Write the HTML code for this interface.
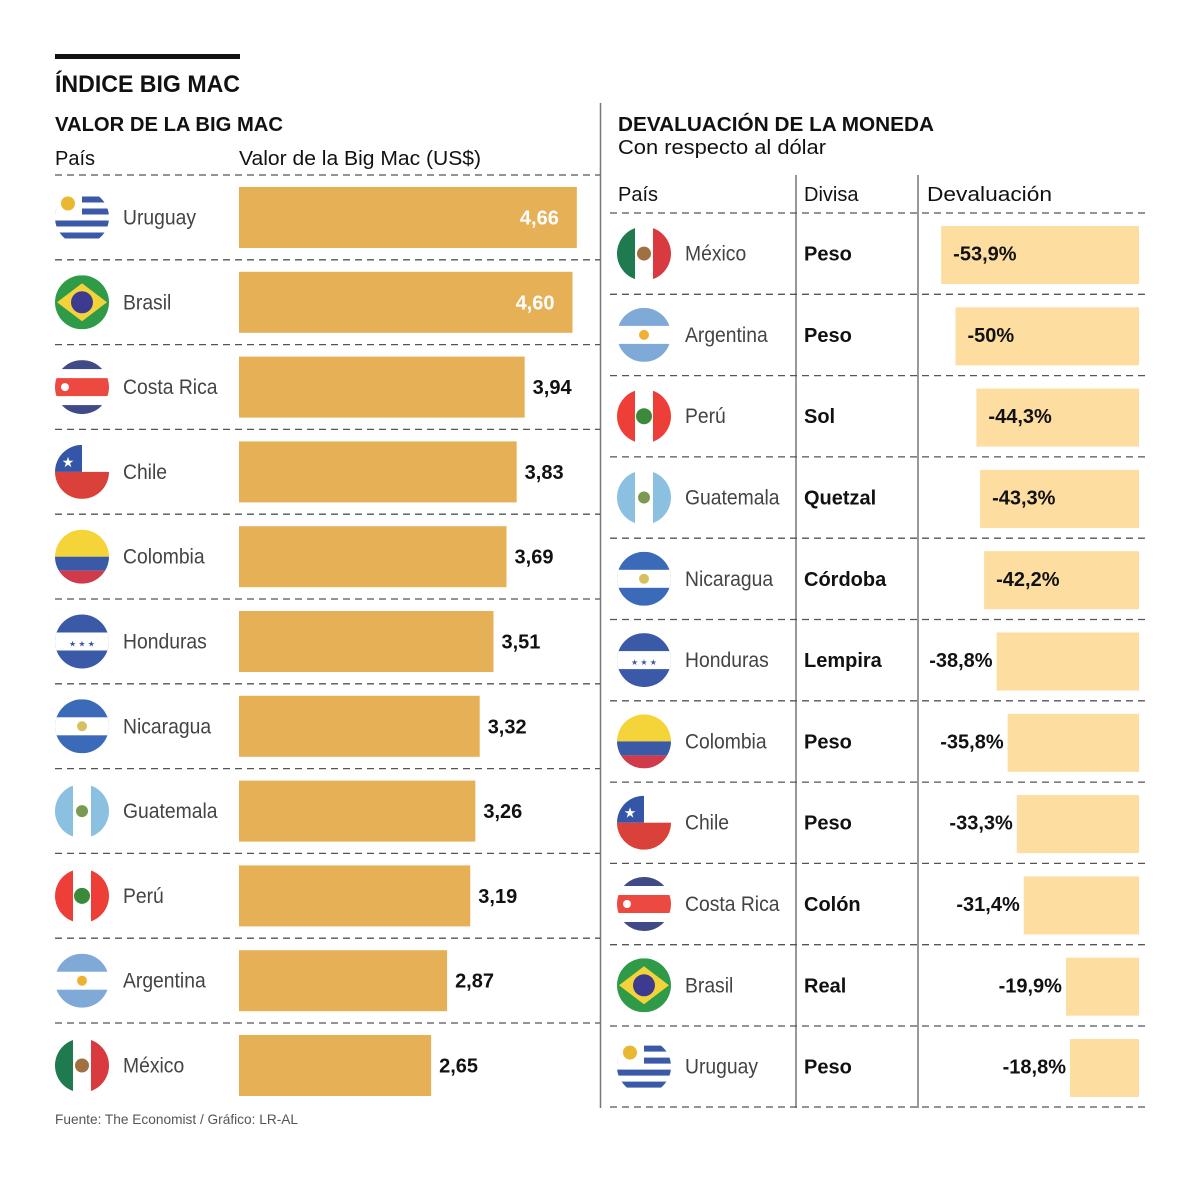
<!DOCTYPE html>
<html><head><meta charset="utf-8"><style>
body{margin:0;background:#fff;}
svg text{font-family:"Liberation Sans",sans-serif;}
</style></head><body>
<svg id="c" width="1200" height="1181" viewBox="0 0 1200 1181" xmlns="http://www.w3.org/2000/svg">
<rect x="55" y="54" width="185" height="5" fill="#111"/>
<text x="55" y="92" font-size="24" font-weight="bold" fill="#111" textLength="185" lengthAdjust="spacingAndGlyphs">ÍNDICE BIG MAC</text>
<text x="55" y="131" font-size="20" font-weight="bold" fill="#111" textLength="228" lengthAdjust="spacingAndGlyphs">VALOR DE LA BIG MAC</text>
<text x="55" y="165" font-size="20" fill="#111">País</text>
<text x="239" y="165" font-size="20" fill="#111" textLength="242" lengthAdjust="spacingAndGlyphs">Valor de la Big Mac (US$)</text>
<text x="618" y="131" font-size="20" font-weight="bold" fill="#111" textLength="316" lengthAdjust="spacingAndGlyphs">DEVALUACIÓN DE LA MONEDA</text>
<text x="618" y="154" font-size="20" fill="#111" textLength="208" lengthAdjust="spacingAndGlyphs">Con respecto al dólar</text>
<text x="618" y="201" font-size="20" fill="#111">País</text>
<text x="804" y="201" font-size="20" fill="#111">Divisa</text>
<text x="927" y="201" font-size="20" fill="#111" textLength="125" lengthAdjust="spacingAndGlyphs">Devaluación</text>
<line x1="600.5" y1="103" x2="600.5" y2="1108" stroke="#777" stroke-width="1.5"/>
<line x1="796" y1="175" x2="796" y2="1108" stroke="#555" stroke-width="1.2"/>
<line x1="918" y1="175" x2="918" y2="1108" stroke="#555" stroke-width="1.2"/>
<text x="55" y="1124" font-size="14" fill="#555" textLength="243" lengthAdjust="spacingAndGlyphs">Fuente: The Economist / Gráfico: LR-AL</text>
<g id="L"></g><g id="R"></g>
</svg>
<script>
const leftCountries=["Uruguay","Brasil","Costa Rica","Chile","Colombia","Honduras","Nicaragua","Guatemala","Perú","Argentina","México"];
const leftValues=[4.66,4.60,3.94,3.83,3.69,3.51,3.32,3.26,3.19,2.87,2.65];
const leftLabels=["4,66","4,60","3,94","3,83","3,69","3,51","3,32","3,26","3,19","2,87","2,65"];
const rightCountries=["México","Argentina","Perú","Guatemala","Nicaragua","Honduras","Colombia","Chile","Costa Rica","Brasil","Uruguay"];
const rightCurrencies=["Peso","Peso","Sol","Quetzal","Córdoba","Lempira","Peso","Peso","Colón","Real","Peso"];
const rightValues=[-53.9,-50,-44.3,-43.3,-42.2,-38.8,-35.8,-33.3,-31.4,-19.9,-18.8];
const rightLabels=["-53,9%","-50%","-44,3%","-43,3%","-42,2%","-38,8%","-35,8%","-33,3%","-31,4%","-19,9%","-18,8%"];

const NS="http://www.w3.org/2000/svg";
function mk(tag,attrs,parent){const e=document.createElementNS(NS,tag);for(const k in attrs)e.setAttribute(k,attrs[k]);parent.appendChild(e);return e;}
const xL=v=>v*72.5;
const xR=v=>Math.abs(v)*3.67;
const L=document.getElementById('L'),R=document.getElementById('R');
let fid=0;
function nameText(parent,x,y,s){
  const t=mk('text',{x:x,y:y,'font-size':21,fill:'#444'},parent);t.textContent=s;
  const w=t.getComputedTextLength();
  t.setAttribute('textLength',(w*0.92).toFixed(1));t.setAttribute('lengthAdjust','spacingAndGlyphs');
  return t;
}
function flag(name,cx,cy,parent){
  const id='cl'+(fid++);const r=27;
  const g=mk('g',{transform:`translate(${cx},${cy})`},parent);
  
  
  const cp=mk('clipPath',{id:id},g);mk('circle',{cx:0,cy:0,r:r},cp);
  const h=mk('g',{'clip-path':`url(#${id})`},g);
  const R_=(x,y,w,hh,f)=>mk('rect',{x:x,y:y,width:w,height:hh,fill:f},h);
  const blue='#3a5aa8',red='#d9413a',lb='#7fa9d6';
  switch(name){
    case "Uruguay":R_(-27,-27,54,54,'#fff');for(let i=0;i<4;i++)R_(-27,-21+i*12,54,6,blue);R_(-27,-27,27,27,'#fff');mk('circle',{cx:-14,cy:-14,r:7,fill:'#e8b830'},h);break;
    case "Brasil":R_(-27,-27,54,54,'#2f9a48');mk('polygon',{points:'-25,0 0,-19 25,0 0,19',fill:'#f3d23a'},h);mk('circle',{cx:0,cy:0,r:11,fill:'#3d3b8f'},h);break;
    case "Costa Rica":R_(-27,-27,54,54,'#fff');R_(-27,-27,54,9,'#3f4a86');R_(-27,18,54,9,'#3f4a86');R_(-27,-9,54,18,'#ec4a40');mk('circle',{cx:-17,cy:0,r:4,fill:'#fff'},h);break;
    case "Chile":R_(-27,-27,54,27,'#fff');R_(-27,-27,27,27,'#3556a8');R_(-27,0,54,27,red);mk('text',{x:-14,y:-5,'font-size':14,fill:'#fff','text-anchor':'middle'},h).textContent='★';break;
    case "Colombia":R_(-27,-27,54,27,'#f5d43a');R_(-27,0,54,14,'#3a5aa8');R_(-27,14,54,13,'#cf3b4b');break;
    case "Honduras":R_(-27,-27,54,54,'#3a5aa8');R_(-27,-9,54,18,'#fff');mk('text',{x:0,y:5,'font-size':8,fill:blue,'text-anchor':'middle'},h).textContent='★ ★ ★';break;
    case "Nicaragua":R_(-27,-27,54,54,'#3a6ab8');R_(-27,-9,54,18,'#fff');mk('circle',{cx:0,cy:0,r:5,fill:'#d8c060'},h);break;
    case "Guatemala":R_(-27,-27,54,54,'#fff');R_(-27,-27,18,54,'#8bc0e0');R_(9,-27,18,54,'#8bc0e0');mk('circle',{cx:0,cy:0,r:6,fill:'#7a9a50'},h);break;
    case "Perú":R_(-27,-27,54,54,'#fff');R_(-27,-27,18,54,'#ee3e38');R_(9,-27,18,54,'#ee3e38');mk('circle',{cx:0,cy:0,r:8,fill:'#3a8a3a'},h);break;
    case "Argentina":R_(-27,-27,54,54,'#fff');R_(-27,-27,54,18,lb);R_(-27,9,54,18,lb);mk('circle',{cx:0,cy:0,r:5,fill:'#f0b030'},h);break;
    case "México":R_(-27,-27,54,54,'#fff');R_(-27,-27,18,54,'#1f7a50');R_(9,-27,18,54,'#d83a40');mk('circle',{cx:0,cy:0,r:7,fill:'#a07040'},h);break;
  }
}
const dash={stroke:'#555','stroke-width':1.3,'stroke-dasharray':'7,5'};
const hr=mk('line',Object.assign({x1:55,y1:175,x2:600,y2:175},dash),L);


leftCountries.forEach((c,i)=>{
  const top=175+i*84.8, cy=top+42.5;
  if(i>0){const ln=mk('line',Object.assign({x1:55,y1:top,x2:600,y2:top},dash),L);
    
    }
  flag(c,82,cy,L);
  const t=nameText(L,123,cy+7,c);
  
  
  const w=xL(leftValues[i]);
  const b=mk('rect',{x:239,y:top+12,width:w,height:61,fill:'#e5b056'},L);
  
  
  const inside=leftValues[i]>=4.5;
  const v=mk('text',{x:inside?239+w-18:239+w+8,y:cy+7,'font-size':20,'font-weight':'bold',fill:inside?'#fff':'#111','text-anchor':inside?'end':'start'},L);
  v.textContent=leftLabels[i];
  
  
});
rightCountries.forEach((c,i)=>{
  const top=213+i*81.3, cy=top+40.6;
  const ln=mk('line',Object.assign({x1:610,y1:top,x2:1147,y2:top},dash),R);
  
  
  flag(c,644,cy,R);
  const t=nameText(R,685,cy+7,c);
  
  
  const d=mk('text',{x:804,y:cy+7,'font-size':20,'font-weight':'bold',fill:'#111'},R);d.textContent=rightCurrencies[i];
  
  
  const w=xR(rightValues[i]);
  const b=mk('rect',{x:1139-w,y:top+13,width:w,height:58,fill:'#fddda0'},R);
  
  
  const inside=Math.abs(rightValues[i])>=40;
  const v=mk('text',{x:inside?1139-w+12:1139-w-4,y:cy+7,'font-size':20,'font-weight':'bold',fill:'#111','text-anchor':inside?'start':'end'},R);
  v.textContent=rightLabels[i];
  
  
});
const lb=mk('line',Object.assign({x1:610,y1:1107,x2:1147,y2:1107},dash),R);


</script>
</body></html>
